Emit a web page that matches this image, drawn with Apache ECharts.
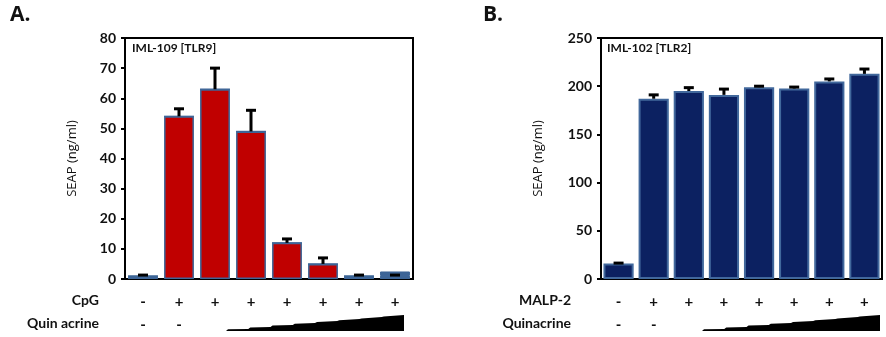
<!DOCTYPE html>
<html><head><meta charset="utf-8">
<script src="https://cdn.jsdelivr.net/npm/echarts@6/dist/echarts.min.js"></script>
<style>html,body{margin:0;padding:0;background:#fff}#c{width:886px;height:337px}</style>
</head><body><div id="c"></div>
<script>
var categories = ['1','2','3','4','5','6','7','8'];
var cpgRow = ['-','+','+','+','+','+','+','+'];
var quinRowA = ['-','-','','','','','',''];
var malpRow = ['-','+','+','+','+','+','+','+'];
var quinRowB = ['-','-','','','','','',''];
var valuesA = [1, 54, 63, 49, 12, 5, 1, 1];
var extraA = [0, 0, 0, 0, 0, 0, 0, 1.5];
var errA = [0.3, 2.5, 7, 7, 1.3, 2, 0.3, 0.3];
var valuesB = [16, 187, 195, 191, 199, 197.6, 205, 212.8];
var errB = [0.5, 4, 3.5, 6, 1, 1.5, 2.5, 5];
var yTicksA = [0, 10, 20, 30, 40, 50, 60, 70, 80];
var yTicksB = [0, 50, 100, 150, 200, 250];

var chart = echarts.init(document.getElementById('c'));
var FONT = 'Lato';

function errSeries(xi, yi, vals, errs){
  return {
    type:'custom', xAxisIndex:xi, yAxisIndex:yi, z:5,
    data: vals.map(function(v,i){return [i, v, v+errs[i]];}),
    renderItem: function(params, api){
      var p0 = api.coord([api.value(0), api.value(1)]);
      var p1 = api.coord([api.value(0), api.value(2)]);
      return {type:'group', children:[
        {type:'line', shape:{x1:p0[0],y1:p0[1],x2:p1[0],y2:p1[1]}, style:{stroke:'#000',lineWidth:3}},
        {type:'line', shape:{x1:p1[0]-5,y1:p1[1],x2:p1[0]+5,y2:p1[1]}, style:{stroke:'#000',lineWidth:3}}
      ]};
    }
  };
}
function labelFmt(r1, r2){
  return function(v, i){ return r1[i] + '\n' + (r2[i] || ' '); };
}
function xAx(gi, r1, r2){
  return {type:'category', gridIndex:gi, data:categories,
    axisLine:{lineStyle:{color:'#000',width:2}}, axisTick:{show:false},
    axisLabel:{formatter:labelFmt(r1,r2), margin:12, lineHeight:23, fontSize:15, fontWeight:'bold', color:'#111', fontFamily:FONT, interval:0}};
}
function yAx(gi, max, interval, ticks, nameGap){
  return {type:'value', gridIndex:gi, min:ticks[0], max:max, interval:interval,
    name:'SEAP (ng/ml)', nameLocation:'middle', nameGap:nameGap, nameRotate:90,
    nameTextStyle:{fontSize:13, color:'#111', fontFamily:'Open Sans'},
    splitLine:{show:false},
    axisLine:{show:true, lineStyle:{color:'#000',width:2}},
    axisTick:{show:true, length:4, lineStyle:{color:'#000',width:2}},
    axisLabel:{fontSize:14, fontWeight:'bold', color:'#111', fontFamily:FONT, margin:9}};
}
function ramp(x0, x1, yb, yt){
  var pts = [[x0, yb]];
  var n = 8;
  for (var k=1;k<=n;k++){
    var xs = x0 + (x1-x0)*k/n;
    var h = (yb-yt)*k/n;
    pts.push([x0 + (x1-x0)*(k-1)/n + 2, yb - h*0.9]);
    pts.push([xs, yb - h]);
  }
  pts.push([x1, yb]);
  return {type:'polygon', shape:{points:pts}, style:{fill:'#000'}};
}

var option = {
  animation:false,
  grid:[
    {left:125, top:38, width:288, height:241, show:true, borderColor:'#000', borderWidth:2, backgroundColor:'transparent'},
    {left:601, top:38, width:281, height:241, show:true, borderColor:'#000', borderWidth:2, backgroundColor:'transparent'}
  ],
  xAxis:[ xAx(0, cpgRow, quinRowA), xAx(1, malpRow, quinRowB) ],
  yAxis:[ yAx(0, 80, 10, yTicksA, 46), yAx(1, 250, 50, yTicksB, 56) ],
  series:[
    {type:'bar', xAxisIndex:0, yAxisIndex:0, stack:'a', data:valuesA, barCategoryGap:'17%',
      itemStyle:{color:'#c00000', borderColor:'#3d6597', borderWidth:1.5}},
    {type:'bar', xAxisIndex:0, yAxisIndex:0, stack:'a', data:extraA,
      itemStyle:{color:'#3d6597', borderColor:'#3d6597', borderWidth:1}},
    errSeries(0,0,valuesA,errA),
    {type:'bar', xAxisIndex:1, yAxisIndex:1, data:valuesB, barCategoryGap:'14%',
      itemStyle:{color:'#0c2161', borderColor:'#41689c', borderWidth:2}},
    errSeries(1,1,valuesB,errB)
  ],
  graphic:[
    {type:'text', left:10, top:5, style:{text:'A.', fontSize:21, fontWeight:'bold', fill:'#111', fontFamily:'Open Sans'}},
    {type:'text', left:483, top:5, style:{text:'B.', fontSize:21, fontWeight:'bold', fill:'#111', fontFamily:'Open Sans'}},
    {type:'text', left:132, top:42, style:{text:'IML-109 [TLR9]', fontSize:12, fontWeight:'bold', fill:'#111', fontFamily:FONT}},
    {type:'text', left:607, top:42, style:{text:'IML-102 [TLR2]', fontSize:12, fill:'#111', fontFamily:FONT, fontWeight:'bold'}},
    {type:'text', right:886-99, top:293, style:{text:'CpG', fontSize:14, fontWeight:'bold', fill:'#111', fontFamily:FONT, align:'right'}},
    {type:'text', right:886-99, top:316, style:{text:'Quin acrine', fontSize:14, fontWeight:'bold', fill:'#111', fontFamily:FONT, align:'right'}},
    {type:'text', right:886-571, top:293, style:{text:'MALP-2', fontSize:14, fontWeight:'bold', fill:'#111', fontFamily:FONT, align:'right'}},
    {type:'text', right:886-571, top:316, style:{text:'Quinacrine', fontSize:14, fontWeight:'bold', fill:'#111', fontFamily:FONT, align:'right'}},
    ramp(226, 404, 331, 315),
    ramp(702, 880, 331, 315)
  ]
};
chart.setOption(option);
</script>
</body></html>
